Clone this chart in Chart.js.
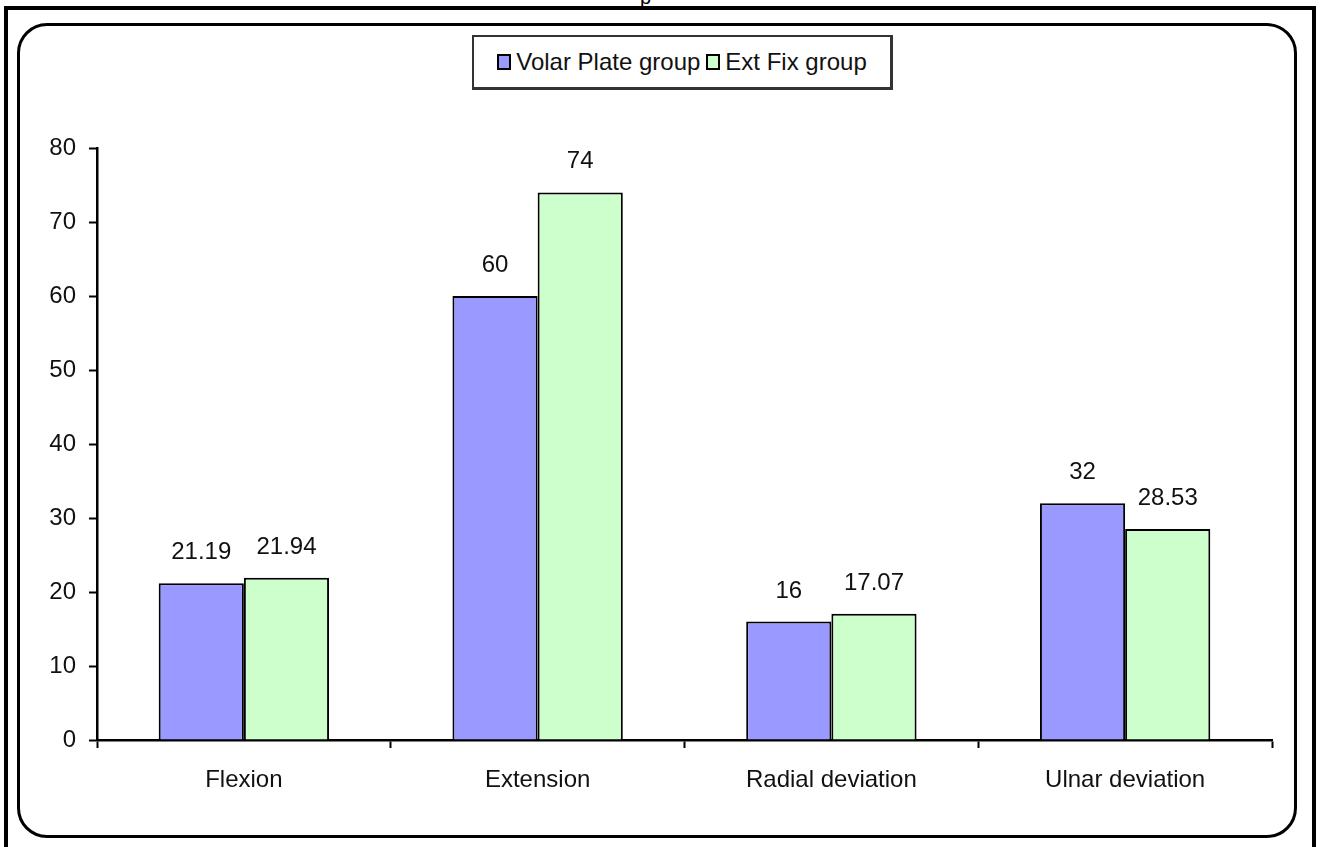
<!DOCTYPE html>
<html>
<head>
<meta charset="utf-8">
<script src="https://cdn.jsdelivr.net/npm/chart.js@4/dist/chart.umd.min.js"></script>
<style>
  html, body { margin:0; padding:0; background:#fff; }
  body { width:1321px; height:847px; position:relative; overflow:hidden;
         font-family:"Liberation Sans", Arial, sans-serif; }
  #outer { position:absolute; left:4px; top:6px; width:1304px; height:860px;
           border:4px solid #000; }
  #inner { position:absolute; left:17px; top:23px; width:1274px; height:809px;
           border:3px solid #000; border-radius:30px; }
  #topText { position:absolute; left:640px; top:-14px; font-size:20px; color:#000; }
  #wrap { position:absolute; left:0; top:0; width:1321px; height:847px; }
  #legend { position:absolute; left:472px; top:35px; width:416px; height:50px;
            border:2px solid #333; border-bottom-width:3px; border-right-width:3px;
            background:#fff; display:flex; align-items:center; justify-content:center;
            font-size:24px; color:#111; white-space:nowrap; }
  #legend span.box { display:inline-block; width:10px; height:12px; border:2px solid #000;
                     margin:0 5px 0 6px; vertical-align:middle; }
  #legend span.box:first-child { margin-left:0; }
</style>
</head>
<body>

<div id="outer"></div>
<div id="inner"></div>
<div id="topText">p</div>
<div id="wrap"><canvas id="barChart"></canvas></div>
<div id="legend"></div>

<script>

/* ===========================
   DATA
=========================== */

const categories = ["Flexion","Extension","Radial deviation","Ulnar deviation"];

const volarPlate = [21.19, 60, 16, 32];

const extFix = [21.94, 74, 17.07, 28.53];

const seriesNames = ["Volar Plate group","Ext Fix group"];

const seriesColors = ["#9999FF","#CCFFCC"];

/* ===========================
   VALUE LABELS
=========================== */

const valueLabels = {

    id:"valueLabels",

    afterDatasetsDraw(chart){

        const ctx = chart.ctx;

        ctx.save();

        ctx.font = "24px 'Liberation Sans', Arial, sans-serif";

        ctx.fillStyle = "#111";

        ctx.textAlign = "center";

        ctx.textBaseline = "alphabetic";

        chart.data.datasets.forEach((ds,i)=>{

            chart.getDatasetMeta(i).data.forEach((bar,j)=>{

                ctx.fillText(String(ds.data[j]), bar.x, bar.y - 24);

            });

        });

        ctx.restore();

    }

};

/* ===========================
   CHART
=========================== */

const canvas = document.getElementById("barChart");

canvas.width = 1321;

canvas.height = 847;

const axisFont = { family:"'Liberation Sans', Arial, sans-serif", size:24 };

new Chart(canvas,{

    type:"bar",

    data:{

        labels:categories,

        datasets:[

            {

                label:seriesNames[0],

                data:volarPlate,

                backgroundColor:seriesColors[0],

                borderColor:"#000",

                borderWidth:2,

                borderSkipped:"bottom"

            },

            {

                label:seriesNames[1],

                data:extFix,

                backgroundColor:seriesColors[1],

                borderColor:"#000",

                borderWidth:2,

                borderSkipped:"bottom"

            }

        ]

    },

    options:{

        responsive:false,

        animation:false,

        devicePixelRatio:1,

        layout:{

            padding:{ top:148, right:49, bottom:0, left:0 }

        },

        plugins:{

            legend:{ display:false },

            tooltip:{ enabled:false }

        },

        datasets:{

            bar:{ categoryPercentage:0.58, barPercentage:1.0 }

        },

        scales:{

            x:{

                afterFit(scale){ scale.height = 107; },

                offset:true,

                grid:{

                    offset:true,

                    drawOnChartArea:false,

                    drawTicks:true,

                    tickLength:8,

                    tickWidth:2,

                    tickColor:"#000"

                },

                border:{ color:"#000", width:2.5 },

                ticks:{

                    color:"#111",

                    padding:18,

                    font:axisFont

                }

            },

            y:{

                min:0,

                max:80,

                afterFit(scale){ scale.width = 97; },

                grid:{

                    drawOnChartArea:false,

                    drawTicks:true,

                    tickLength:8,

                    tickWidth:2,

                    tickColor:"#000"

                },

                border:{ color:"#000", width:2.5 },

                ticks:{

                    stepSize:10,

                    color:"#111",

                    padding:13,

                    font:axisFont

                }

            }

        }

    },

    plugins:[valueLabels]

});

/* ===========================
   LEGEND (HTML)
=========================== */

const legend = document.getElementById("legend");

seriesNames.forEach((name,i)=>{

    const box = document.createElement("span");

    box.className = "box";

    box.style.background = seriesColors[i];

    legend.appendChild(box);

    legend.appendChild(document.createTextNode(name));

});

</script>
</body>
</html>
